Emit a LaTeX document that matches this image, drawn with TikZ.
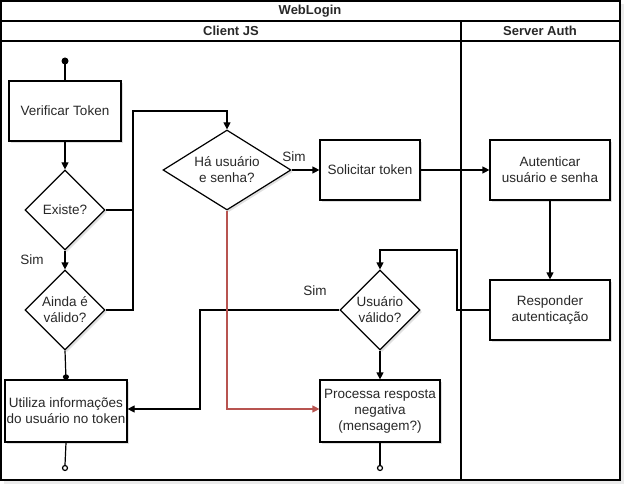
\documentclass[tikz,border=0pt]{standalone}
\usepackage{fontspec}
\setmainfont{Liberation Sans}
\usetikzlibrary{arrows.meta,shapes.geometric,shadows}
\definecolor{redline}{RGB}{184,84,80}
\definecolor{txt}{RGB}{40,40,40}
\tikzset{
  x=1pt,y=-1pt,
  every node/.style={font=\fontsize{13.5}{16}\selectfont, text=txt},
  lw/.style={line width=1.2pt},
  shd/.style={drop shadow={shadow xshift=2pt,shadow yshift=-2pt,opacity=0.12,fill=black}},
  procbox/.style={draw, lw, fill=white, shd, minimum width=#1, align=center, inner sep=1pt},
  procbox/.default=110,
  decision/.style={draw, lw, fill=white, shd, diamond, aspect=#1, inner sep=0pt, align=center},
  flow/.style={lw, -{Triangle[length=7pt,width=7pt]}},
  plain/.style={lw},
  lbl/.style={inner sep=1pt},
  hdr/.style={font=\fontsize{13}{15}\selectfont\bfseries}
}
\begin{document}
\begin{tikzpicture}
\useasboundingbox (0,0) rectangle (632,492);
% frame
\fill[black,opacity=0.08] (4,4) rectangle (624,484);
\draw[lw,fill=white] (1,1) rectangle (620,480);
\draw[lw] (1,21) -- (620,21);
\draw[lw] (1,41) -- (620,41);
\draw[lw] (461,21) -- (461,480);
\node[hdr] (title) at (310,11) {WebLogin};
\node[hdr] (laneA) at (231,31) {Client JS};
\node[hdr] (laneB) at (540,31) {Server Auth};

% nodes
\coordinate (start) at (65,61);
\fill (start) circle (3.5);
\node[procbox=112, minimum height=60] (ver) at (65,111) {Verificar Token};
\node[decision=1, minimum width=80, minimum height=80] (ex) at (65,210) {Existe?};
\node[decision=1, minimum width=80, minimum height=80] (ainda) at (65,310) {Ainda é\\válido?};
\node[procbox=122, minimum height=62] (util) at (66,411) {Utiliza informações\\do usuário no token};
\node[draw,circle,lw,inner sep=0pt,minimum size=5,fill=white] (end1) at (65,468) {};

\node[decision=1.6, minimum width=128, minimum height=80] (ha) at (227,170) {Há usuário\\e senha?};
\node[procbox=100, minimum height=60] (sol) at (370,170) {Solicitar token};
\node[procbox=120, minimum height=60] (aut) at (550,170) {Autenticar\\usuário e senha};
\node[procbox=120, minimum height=60] (resp) at (550,310) {Responder\\autenticação};
\node[decision=1, minimum width=80, minimum height=80] (uv) at (380,310) {Usuário\\válido?};
\node[procbox=120, minimum height=62] (proc) at (380,411) {Processa resposta\\negativa\\(mensagem?)};
\node[draw,circle,lw,inner sep=0pt,minimum size=5,fill=white] (end2) at (380,468) {};

% labels
\node[lbl] (sim1) at (32,260) {Sim};
\node[lbl] (sim2) at (294,157) {Sim};
\node[lbl] (sim3) at (315,291) {Sim};

% connectors
\draw[plain] (start) -- (ver.north);
\draw[flow] (ver.south) -- (ex.north);
\draw[flow] (ex.south) -- (ainda.north);
\draw[lw,-{Circle[length=5pt,width=6pt]}] (ainda.south) -- (util.north);
\draw[plain] (util.south) -- (end1.north);
\draw[flow] (ex.east) -- (133,210) -- (133,111) -- (227,111) -- (ha.north);
\draw[plain] (ainda.east) -- (133,310) -- (133,210);
\draw[flow] (ha.east) -- (sol.west);
\draw[flow] (sol.east) -- (aut.west);
\draw[flow] (aut.south) -- (resp.north);
\draw[flow] (resp.west) -- (457,310) -- (457,250) -- (380,250) -- (uv.north);
\draw[flow] (uv.west) -- (200,310) -- (200,409) -- (util.east |- 0,409);
\draw[flow] (uv.south) -- (proc.north);
\draw[plain] (proc.south) -- (end2.north);
\draw[lw,draw=redline,-{Triangle[length=7pt,width=7pt,fill=redline]}] (ha.south) -- (227,409) -- (proc.west |- 0,409);
\end{tikzpicture}
\end{document}
